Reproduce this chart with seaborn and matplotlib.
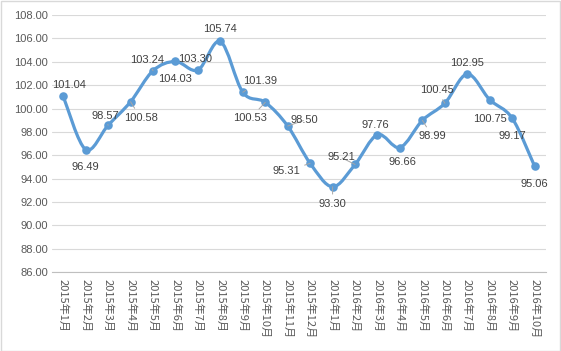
import numpy as np
import pandas as pd
import matplotlib
matplotlib.use("Agg")
import matplotlib.pyplot as plt
from matplotlib.path import Path
from matplotlib.patches import PathPatch, Rectangle
import seaborn as sns

months = ["2015年1月", "2015年2月", "2015年3月", "2015年4月", "2015年5月", "2015年6月",
          "2015年7月", "2015年8月", "2015年9月", "2015年10月", "2015年11月", "2015年12月",
          "2016年1月", "2016年2月", "2016年3月", "2016年4月", "2016年5月", "2016年6月",
          "2016年7月", "2016年8月", "2016年9月", "2016年10月"]
values = [101.04, 96.49, 98.57, 100.58, 103.24, 104.03, 103.30, 105.74, 101.39, 100.53,
          98.50, 95.31, 93.30, 95.21, 97.76, 96.66, 98.99, 100.45, 102.95, 100.75, 99.17, 95.06]
y_ticks = [86, 88, 90, 92, 94, 96, 98, 100, 102, 104, 106, 108]

# label offsets in pixels (dx, dy up-positive) and whether a leader line is drawn
label_offsets = [(6, 11), (0, -17), (-3, 9), (10, -16), (-6, 11), (0, -18), (-3, 11), (0, 12),
                 (17, 11), (-15, -16), (17, 6), (-24, -8), (0, -17), (-14, 7), (-2, 10), (2, -14),
                 (10, -16), (-8, 13), (0, 11), (0, -19), (0, -18), (0, -18)]
leaders = [False, False, True, True, True, False, False, False,
           True, True, True, True, True, True, False, False,
           True, True, False, False, False, False]

sns.set_theme(style="white")
plt.rcParams["font.family"] = ["Liberation Sans", "Noto Sans CJK SC", "DejaVu Sans"]

df = pd.DataFrame({"x": np.arange(len(values)), "month": months, "value": values})

fig = plt.figure(figsize=(5.61, 3.51), dpi=100)
ax = fig.add_axes([0.0927, 0.225, 0.973 - 0.0927, 0.957 - 0.225])

color = "#5B9BD5"

# smooth (Excel-like Catmull-Rom) curve built from the data
x = df["x"].to_numpy(dtype=float)
y = df["value"].to_numpy(dtype=float)
n = len(x)
verts = [(x[0], y[0])]
codes = [Path.MOVETO]
for i in range(n - 1):
    p0 = np.array([x[max(i - 1, 0)], y[max(i - 1, 0)]])
    p1 = np.array([x[i], y[i]])
    p2 = np.array([x[i + 1], y[i + 1]])
    p3 = np.array([x[min(i + 2, n - 1)], y[min(i + 2, n - 1)]])
    c1 = p1 + (p2 - p0) / 6.0
    c2 = p2 - (p3 - p1) / 6.0
    verts += [tuple(c1), tuple(c2), tuple(p2)]
    codes += [Path.CURVE4] * 3
ax.add_patch(PathPatch(Path(verts, codes), facecolor="none", edgecolor=color, lw=2.3,
                       capstyle="round", joinstyle="round", zorder=3))

sns.scatterplot(data=df, x="x", y="value", ax=ax, color=color, s=38, edgecolor=color,
                linewidth=0, zorder=4, legend=False)

for i, (v, (dx, dy), ld) in enumerate(zip(values, label_offsets, leaders)):
    kw = {}
    if ld:
        kw["arrowprops"] = dict(arrowstyle="-", color="#A6A6A6", lw=0.7, shrinkA=1, shrinkB=0)
    ax.annotate(f"{v:.2f}", xy=(i, v), xytext=(dx, dy), textcoords="offset pixels",
                ha="center", va="center", fontsize=8, color="#404040", zorder=5, **kw)

ax.set_xlim(-0.5, len(values) - 0.5)
ax.set_ylim(86, 108)
ax.set_yticks(y_ticks)
ax.set_yticklabels([f"{t:.2f}" for t in y_ticks], fontsize=8, color="#595959")
ax.set_xticks(range(len(months)))
ax.set_xticklabels(months, rotation=-90, fontsize=8, color="#595959",
                   family=["Noto Sans CJK SC", "DejaVu Sans"], va="top", ha="center")
ax.set_xticks(np.arange(-0.5, len(values), 1), minor=True)
ax.tick_params(axis="x", which="major", length=0, pad=5)
ax.tick_params(axis="x", which="minor", length=4, color="#BFBFBF", width=0.8, direction="out")
ax.tick_params(axis="y", length=0, pad=3)
ax.set_xlabel("")
ax.set_ylabel("")
ax.grid(axis="y", color="#D9D9D9", lw=0.8)
ax.set_axisbelow(True)
for s in ["top", "right", "left"]:
    ax.spines[s].set_visible(False)
ax.spines["bottom"].set_color("#BFBFBF")
ax.spines["bottom"].set_linewidth(0.8)

fig.patches.append(Rectangle((0.001, 0.001), 0.997, 0.996, transform=fig.transFigure,
                             fill=False, edgecolor="#D9D9D9", lw=1))

fig.savefig("out.png", dpi=100)
